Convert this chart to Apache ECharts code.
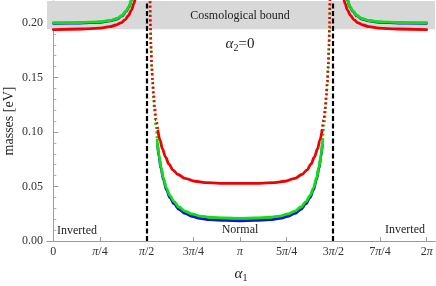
<!DOCTYPE html>
<html>
<head>
<meta charset="utf-8">
<script src="https://cdn.jsdelivr.net/npm/echarts@6/dist/echarts.min.js"></script>
<style>
html,body{margin:0;padding:0;background:#fff;}
#chart{width:436px;height:286px;}
</style>
</head>
<body>
<div id="chart"></div>
<script>
// ---- data ----
const xTickValues = [0, Math.PI/4, Math.PI/2, 3*Math.PI/4, Math.PI, 5*Math.PI/4, 3*Math.PI/2, 7*Math.PI/4, 2*Math.PI];
const xTickLabels = ['0', 'π/4', 'π/2', '3π/4', 'π', '5π/4', '3π/2', '7π/4', '2π'];
const cosmologicalBound = 0.1942;
const boundaries = [Math.PI/2, 3*Math.PI/2];
const regionLabels = ['Inverted', 'Normal', 'Inverted'];

// red curve
const redInvertedLeft = [[0,0.1940],[0.483,0.1945],[0.786,0.1954],[0.954,0.1966],[1.055,0.1982],[1.139,0.2002],[1.207,0.2029],[1.266,0.2069],[1.316,0.2119],[1.358,0.2179],[1.375,0.2211],[1.39,0.2240]];
const redInvertedRight = [[4.877,0.2240],[4.892,0.2211],[4.909,0.2179],[4.951,0.2119],[5.002,0.2069],[5.061,0.2029],[5.128,0.2002],[5.212,0.1982],[5.313,0.1966],[5.481,0.1954],[5.784,0.1945],[6.2832,0.1940]];
const redNormal = [[1.7616,0.1009],[1.7953,0.0927],[1.8374,0.0844],[1.8878,0.0771],[1.9467,0.0706],[2.0141,0.0651],[2.0982,0.0610],[2.216,0.0575],[2.3846,0.0548],[2.5526,0.0536],[2.805,0.0529],[3.1416,0.0528],[3.4782,0.0529],[3.7306,0.0536],[3.8986,0.0548],[4.0672,0.0575],[4.185,0.0610],[4.2691,0.0651],[4.3365,0.0706],[4.3954,0.0771],[4.4458,0.0844],[4.4879,0.0927],[4.5216,0.1009]];
const redSteepLeft = [[1.6220,0.2240],[1.6270,0.2211],[1.6354,0.1954],[1.6455,0.1752],[1.6573,0.1587],[1.6724,0.1459],[1.6893,0.1339],[1.7078,0.1220],[1.7313,0.1110],[1.7616,0.1009]];
const redSteepRight = [[4.5216,0.1009],[4.5519,0.1110],[4.5754,0.1220],[4.5939,0.1339],[4.6108,0.1459],[4.6259,0.1587],[4.6377,0.1752],[4.6478,0.1954],[4.6562,0.2211],[4.6612,0.2240]];

// green curve
const greenInvertedLeft = [[0,0.2002],[0.449,0.2004],[0.786,0.2011],[0.954,0.2023],[1.072,0.2041],[1.156,0.2069],[1.224,0.2110],[1.274,0.2151],[1.316,0.2211],[1.33,0.2240]];
const greenInvertedRight = [[4.937,0.2240],[4.951,0.2211],[4.993,0.2151],[5.044,0.2110],[5.111,0.2069],[5.195,0.2041],[5.313,0.2023],[5.481,0.2011],[5.818,0.2004],[6.2832,0.2002]];
const greenNormal = [[1.7482,0.0927],[1.7785,0.0789],[1.8121,0.0679],[1.8542,0.0578],[1.9047,0.0486],[1.9636,0.0417],[2.0309,0.0362],[2.1150,0.0312],[2.2160,0.0275],[2.3338,0.0248],[2.4684,0.0229],[2.6367,0.0218],[2.8892,0.0211],[3.1416,0.0208],[3.3940,0.0211],[3.6465,0.0218],[3.8148,0.0229],[3.9494,0.0248],[4.0672,0.0275],[4.1682,0.0312],[4.2523,0.0362],[4.3196,0.0417],[4.3785,0.0486],[4.4290,0.0578],[4.4711,0.0679],[4.5047,0.0789],[4.5350,0.0927]];
const greenSteepLeft = [[1.6230,0.2240],[1.6270,0.2211],[1.6337,0.2009],[1.6438,0.1798],[1.6556,0.1615],[1.6691,0.1459],[1.6859,0.1312],[1.7027,0.1184],[1.7229,0.1064],[1.7482,0.0927]];
const greenSteepRight = [[4.5350,0.0927],[4.5603,0.1064],[4.5805,0.1184],[4.5973,0.1312],[4.6141,0.1459],[4.6276,0.1615],[4.6394,0.1798],[4.6495,0.2009],[4.6562,0.2211],[4.6602,0.2240]];

// blue curve
const blueInvertedLeft = [[0,0.1998],[0.449,0.2000],[0.786,0.2007],[0.954,0.2019],[1.072,0.2037],[1.156,0.2065],[1.224,0.2106],[1.274,0.2147],[1.318,0.2211],[1.332,0.2240]];
const blueInvertedRight = [[4.935,0.2240],[4.949,0.2211],[4.993,0.2147],[5.044,0.2106],[5.111,0.2065],[5.195,0.2037],[5.313,0.2019],[5.481,0.2007],[5.818,0.2000],[6.2832,0.1998]];
const blueNormal = [[1.7560,0.0880],[1.7785,0.0775],[1.8121,0.0665],[1.8542,0.0562],[1.9047,0.0469],[1.9636,0.0398],[2.0309,0.0342],[2.1150,0.0291],[2.2160,0.0253],[2.3338,0.0226],[2.4684,0.0207],[2.6367,0.0196],[2.8892,0.0189],[3.1416,0.0186],[3.3940,0.0189],[3.6465,0.0196],[3.8148,0.0207],[3.9494,0.0226],[4.0672,0.0253],[4.1682,0.0291],[4.2523,0.0342],[4.3196,0.0398],[4.3785,0.0469],[4.4290,0.0562],[4.4711,0.0665],[4.5047,0.0775],[4.5272,0.0880]];

// ---- chart ----
const SERIF = 'Liberation Serif';
const RED = '#f00000', GREEN = '#10e010', BLUE = '#1010e0';

function curve(data, color, dotted, z) {
  return {
    type: 'line', data: data, showSymbol: false, symbol: 'none',
    smooth: 0.35, smoothMonotone: 'x', clip: true, silent: true, z: z,
    lineStyle: dotted ? {color: color, width: 2.6, type: [2, 2.5], cap: 'butt'}
                      : {color: color, width: 2.8, cap: 'round'}
  };
}

const chart = echarts.init(document.getElementById('chart'), null, {renderer: 'canvas'});
const option = {
  animation: false,
  backgroundColor: '#fff',
  grid: {left: 47, right: 1, top: 1, bottom: 45, containLabel: false, outerBoundsMode: 'none'},
  xAxis: [{
    type: 'value', min: -0.106, max: 6.424,
    name: '{a|α}{s|1}', nameLocation: 'middle', nameGap: 24, nameMoveOverlap: false,
    nameTextStyle: {rich: {
      a: {fontFamily: SERIF, fontStyle: 'italic', fontSize: 15, color: '#222'},
      s: {fontFamily: SERIF, fontSize: 10, color: '#222', padding: [8, 0, 0, 0]}
    }},
    splitLine: {show: false},
    axisLine: {onZero: false, lineStyle: {color: '#9a9a9a', width: 1}},
    axisTick: {show: true, inside: true, length: 4, lineStyle: {color: '#9a9a9a'}, customValues: xTickValues},
    axisLabel: {
      customValues: xTickValues, margin: 5, fontFamily: SERIF, fontSize: 12, color: '#333',
      formatter: function (v) {
        let idx = xTickValues.findIndex(t => Math.abs(t - v) < 1e-6);
        if (idx < 0) return '';
        return xTickLabels[idx].replace('π', '{i|π}');
      },
      rich: {i: {fontFamily: SERIF, fontStyle: 'italic', fontSize: 12, color: '#333'}}
    }
  }, {
    type: 'value', position: 'top', min: -0.106, max: 6.424,
    axisLine: {show: true, lineStyle: {color: '#9a9a9a'}},
    axisTick: {show: false}, axisLabel: {show: false}, splitLine: {show: false}
  }],
  yAxis: {
    type: 'value', min: 0, max: 0.2202, interval: 0.05,
    name: 'masses [eV]', nameLocation: 'middle', nameGap: 31, nameMoveOverlap: false,
    nameTextStyle: {fontFamily: SERIF, fontSize: 14, color: '#222'},
    splitLine: {show: false},
    axisLine: {show: true, lineStyle: {color: '#9a9a9a'}},
    axisTick: {show: true, inside: true, length: 5, lineStyle: {color: '#9a9a9a'}},
    minorTick: {show: true, splitNumber: 5, length: 3, lineStyle: {color: '#b0b0b0'}},
    axisLabel: {margin: 4, fontFamily: SERIF, fontSize: 12, color: '#333', showMaxLabel: false,
      formatter: v => v.toFixed(2)}
  },
  series: [
    {
      type: 'line', data: [], silent: true, z: 0,
      markArea: {silent: true, itemStyle: {color: '#d8d8d8'},
        data: [[{yAxis: cosmologicalBound}, {yAxis: 0.2202}]]}
    },
    curve(blueInvertedLeft, BLUE, false, 2),
    curve(blueInvertedRight, BLUE, false, 2),
    curve(blueNormal, BLUE, false, 2),
    curve(greenInvertedLeft, GREEN, false, 3),
    curve(greenInvertedRight, GREEN, false, 3),
    curve(greenNormal, GREEN, false, 3),
    curve(greenSteepLeft, GREEN, true, 3),
    curve(greenSteepRight, GREEN, true, 3),
    curve(redInvertedLeft, RED, false, 4),
    curve(redInvertedRight, RED, false, 4),
    curve(redNormal, RED, false, 4),
    curve(redSteepLeft, RED, true, 4),
    curve(redSteepRight, RED, true, 4),
    {
      type: 'line', data: [], silent: true, z: 5,
      markLine: {silent: true, symbol: ['none', 'none'], label: {show: false},
        lineStyle: {color: '#000', width: 2.2, type: [5, 2.5]},
        data: boundaries.map(b => ({xAxis: b}))}
    }
  ],
  graphic: [
    {type: 'text', x: 240, y: 16, z: 10, style: {text: 'Cosmological bound', fontFamily: SERIF, fontSize: 12, fill: '#222', align: 'center', verticalAlign: 'middle'}},
    {type: 'text', x: 240, y: 44, z: 10, style: {text: '{a|α}{s|2}{b|=0}', align: 'center', verticalAlign: 'middle',
      rich: {a: {fontFamily: SERIF, fontStyle: 'italic', fontSize: 15, fill: '#222', color: '#222'},
             b: {fontFamily: SERIF, fontSize: 15, fill: '#222', color: '#222'},
             s: {fontFamily: SERIF, fontSize: 10, fill: '#222', color: '#222', padding: [8, 0, 0, 0]}}}},
    {type: 'text', x: 77, y: 231, z: 10, style: {text: regionLabels[0], fontFamily: SERIF, fontSize: 12, fill: '#222', align: 'center', verticalAlign: 'middle'}},
    {type: 'text', x: 240, y: 230, z: 10, style: {text: regionLabels[1], fontFamily: SERIF, fontSize: 12, fill: '#222', align: 'center', verticalAlign: 'middle'}},
    {type: 'text', x: 405, y: 230, z: 10, style: {text: regionLabels[2], fontFamily: SERIF, fontSize: 12, fill: '#222', align: 'center', verticalAlign: 'middle'}}
  ]
};
chart.setOption(option);
</script>
</body>
</html>
